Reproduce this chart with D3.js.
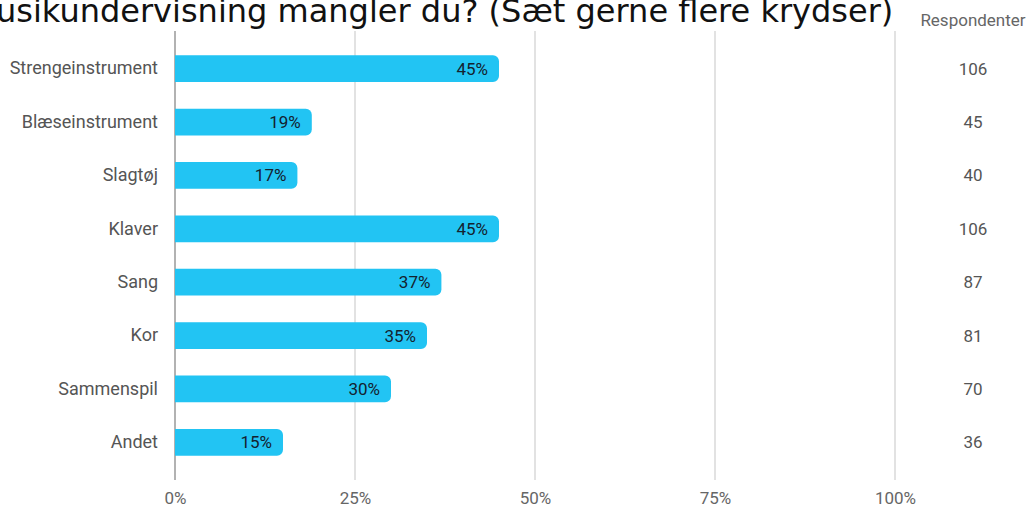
<!DOCTYPE html>
<html>
<head>
<meta charset="utf-8">
<script src="https://cdn.jsdelivr.net/npm/d3@7"></script>
<style>
  body { margin: 0; background: #fff; }
  svg { display: block; }
</style>
</head>
<body>
<div id="okvir"></div>
<script>
const kategorije = ["Strengeinstrument", "Blæseinstrument", "Slagtøj", "Klaver", "Sang", "Kor", "Sammenspil", "Andet"];
const procenti = [45, 19, 17, 45, 37, 35, 30, 15];
const respondenter = [106, 45, 40, 106, 87, 81, 70, 36];
const xTicks = [0, 25, 50, 75, 100];
const naslov = "usikundervisning mangler du? (Sæt gerne flere krydser)";

function crtaj() {
    const dim = { sirina: 1030, visina: 507 };
    const fs = 17;

    const okvir = d3.select("#okvir").append("svg")
        .attr("width", dim.sirina)
        .attr("height", dim.visina);

    const podatci = kategorije.map((k, i) => ({ kat: k, p: procenti[i], n: respondenter[i] }));

    const xSkala = d3.scaleLinear().domain([0, 100]).range([175, 895]);
    const ySkala = d3.scaleBand().domain(kategorije).range([42, 469])
        .paddingInner(0.5).paddingOuter(0.25);

    // naslov (odrezan na vrhu)
    okvir.append("text")
        .attr("x", -4)
        .attr("y", 22)
        .attr("font-family", "DejaVu Sans, Verdana, sans-serif")
        .attr("font-size", 32)
        .attr("fill", "#111")
        .text(naslov);

    // mreza
    const mreza = okvir.append("g");
    mreza.selectAll("line")
        .data(xTicks)
        .join("line")
            .attr("x1", d => xSkala(d))
            .attr("x2", d => xSkala(d))
            .attr("y1", 31)
            .attr("y2", 480)
            .attr("stroke", d => d === 0 ? "#999" : "#cfcfcf")
            .attr("stroke-width", d => d === 0 ? 1.5 : 1.2);

    // x os
    const xOs = okvir.append("g")
        .attr("transform", "translate(0,480)")
        .call(d3.axisBottom(xSkala).tickValues(xTicks).tickFormat(d => d + "%").tickSize(0).tickPadding(12));
    xOs.select(".domain").remove();
    xOs.selectAll("text")
        .attr("font-family", "Roboto, sans-serif")
        .attr("font-size", fs)
        .attr("fill", "#666");

    // y os
    const yOs = okvir.append("g")
        .attr("transform", "translate(158,0)")
        .call(d3.axisLeft(ySkala).tickSize(0).tickPadding(0));
    yOs.select(".domain").remove();
    yOs.selectAll("text")
        .attr("font-family", "Roboto, sans-serif")
        .attr("font-size", 18)
        .attr("fill", "#555");

    // stupci
    const r = 6;
    const stupci = okvir.append("g");
    stupci.selectAll("path")
        .data(podatci)
        .join("path")
            .attr("fill", "#22c4f3")
            .attr("d", d => {
                const x0 = xSkala(0), x1 = xSkala(d.p);
                const y0 = ySkala(d.kat), h = ySkala.bandwidth();
                return `M${x0},${y0}H${x1 - r}A${r},${r} 0 0 1 ${x1},${y0 + r}V${y0 + h - r}A${r},${r} 0 0 1 ${x1 - r},${y0 + h}H${x0}Z`;
            });

    stupci.selectAll("text")
        .data(podatci)
        .join("text")
            .attr("x", d => xSkala(d.p) - 11)
            .attr("y", d => ySkala(d.kat) + ySkala.bandwidth() / 2)
            .attr("dy", "0.35em")
            .attr("text-anchor", "end")
            .attr("font-family", "Roboto, sans-serif")
            .attr("font-size", fs)
            .attr("fill", "#14222f")
            .text(d => d.p + "%");

    // respondenti
    okvir.append("text")
        .attr("x", 973)
        .attr("y", 20)
        .attr("dy", "0.35em")
        .attr("text-anchor", "middle")
        .attr("font-family", "Roboto, sans-serif")
        .attr("font-size", fs)
        .attr("fill", "#666")
        .text("Respondenter");

    okvir.append("g").selectAll("text")
        .data(podatci)
        .join("text")
            .attr("x", 973)
            .attr("y", d => ySkala(d.kat) + ySkala.bandwidth() / 2)
            .attr("dy", "0.35em")
            .attr("text-anchor", "middle")
            .attr("font-family", "Roboto, sans-serif")
            .attr("font-size", fs)
            .attr("fill", "#555")
            .text(d => d.n);
}

crtaj();
</script>
</body>
</html>
